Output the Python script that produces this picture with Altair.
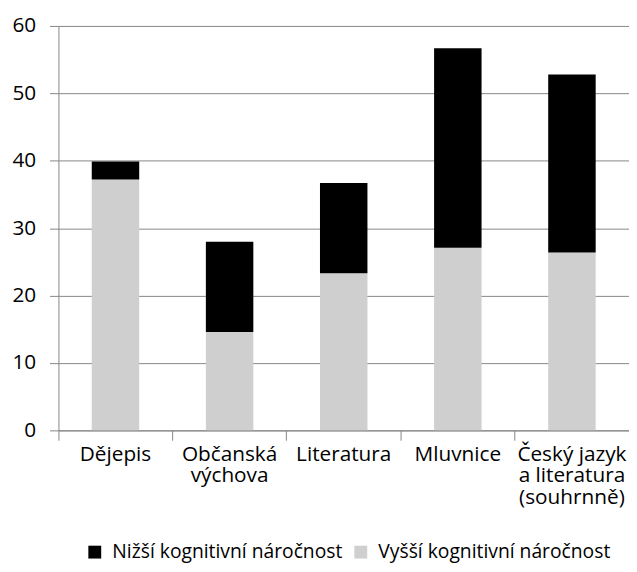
import altair as alt
import pandas as pd

categories = ["Dějepis", "Občanská|výchova", "Literatura", "Mluvnice", "Český jazyk|a literatura|(souhrnně)"]
series = ["Nižší kognitivní náročnost", "Vyšší kognitivní náročnost"]
nizsi = [2.7, 13.4, 13.4, 29.6, 26.4]
vyssi = [37.2, 14.6, 23.3, 27.1, 26.4]

rows = []
for c, lo, hi in zip(categories, nizsi, vyssi):
    rows.append({"cat": c, "series": series[1], "value": hi, "ord": 0})
    rows.append({"cat": c, "series": series[0], "value": lo, "ord": 1})
df = pd.DataFrame(rows)

FONT = "Open Sans"
GRID = "#868686"
FS = 21

chart = alt.Chart(df).mark_bar(width=48).encode(
    x=alt.X("cat:N", sort=categories,
            scale=alt.Scale(paddingInner=0, paddingOuter=0),
            axis=alt.Axis(title=None, labelAngle=0, tickSize=10, bandPosition=0,
                          labelExpr="split(datum.value, '|')", labelAlign="center",
                          labelBaseline="top", labelLineHeight=22, labelPadding=3,
                          labelFontSize=FS, labelFont=FONT, labelColor="#000000",
                          labelLimit=0, labelOverlap=False,
                          domainColor=GRID, tickColor=GRID, grid=False)),
    y=alt.Y("value:Q", stack="zero",
            scale=alt.Scale(domain=[0, 60], nice=False),
            axis=alt.Axis(title=None, values=[0, 10, 20, 30, 40, 50, 60], tickSize=9,
                          labelPadding=14, labelFontSize=FS, labelFont=FONT,
                          labelColor="#000000", domainColor=GRID, tickColor=GRID,
                          grid=True, gridColor=GRID)),
    color=alt.Color("series:N",
                    scale=alt.Scale(domain=series, range=["#000000", "#cfcfcf"]),
                    legend=alt.Legend(title=None, orient="none", legendX=27, legendY=522,
                                      direction="horizontal", symbolType="square",
                                      symbolSize=169, symbolStrokeWidth=0,
                                      labelOffset=8,
                                      labelFontSize=19.5, labelFont=FONT, labelLimit=0,
                                      labelColor="#000000", columnPadding=8)),
    order=alt.Order("ord:Q"),
).properties(
    width=577, height=409,
    autosize=alt.AutoSizeParams(type="none"),
    padding={"left": 51, "top": 15, "right": 0, "bottom": 132},
).configure_view(stroke=None)

chart.save("out.html", embed_options={"renderer": "svg", "actions": False})
